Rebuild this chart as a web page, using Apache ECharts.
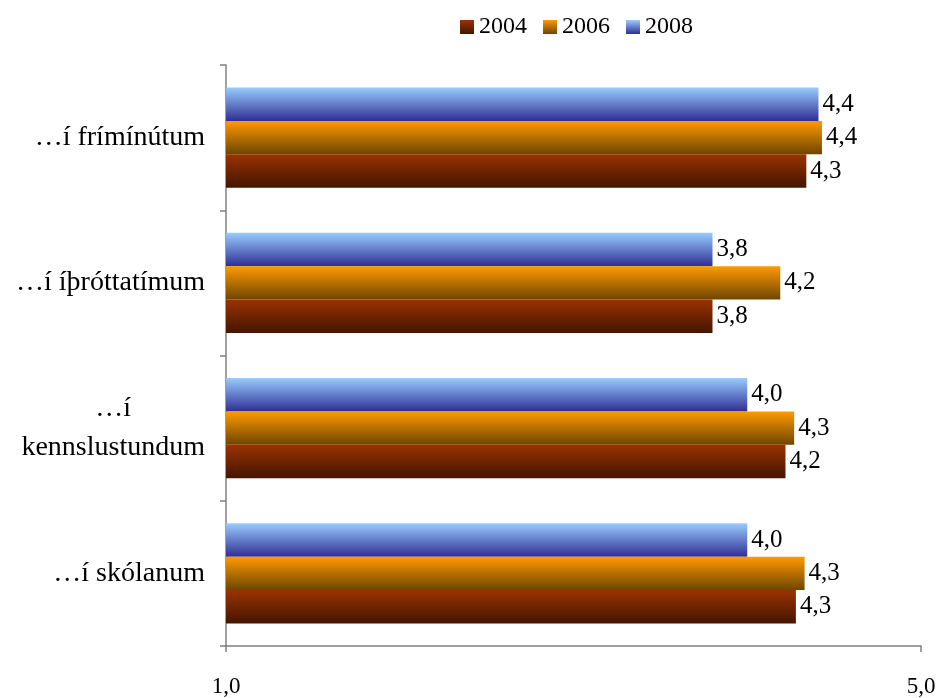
<!DOCTYPE html>
<html>
<head>
<meta charset="utf-8">
<script src="https://cdn.jsdelivr.net/npm/echarts@6/dist/echarts.min.js"></script>
<style>html,body{margin:0;padding:0;background:#fff}#c{width:941px;height:698px}</style>
</head>
<body>
<div id="c"></div>
<script>
var categories = ['…í frímínútum', '…í íþróttatímum', '…í\nkennslustundum', '…í skólanum'];
var years = ['2004', '2006', '2008'];
var values2004 = [4.34, 3.80, 4.22, 4.28];
var values2006 = [4.43, 4.19, 4.27, 4.33];
var values2008 = [4.41, 3.80, 4.00, 4.00];
var xTicks = [1, 5];

var FONT = 'Liberation Serif';
function grad(top, bottom) {
  return new echarts.graphic.LinearGradient(0, 0, 0, 1, [
    {offset: 0, color: top}, {offset: 1, color: bottom}
  ]);
}
var styles = {
  '2004': grad('#9a3300', '#441500'),
  '2006': grad('#ff9a00', '#6e4500'),
  '2008': grad('#99ccff', '#2e2f94')
};
var dataMap = {'2004': values2004, '2006': values2006, '2008': values2008};
function fmt(v) { return v.toFixed(1).replace('.', ','); }

var order = ['2008', '2006', '2004'];
var series = order.map(function (y) {
  return {
    name: y,
    type: 'bar',
    data: dataMap[y],
    barGap: '0%',
    barCategoryGap: '31%',
    itemStyle: {color: styles[y]},
    label: {
      show: true, position: 'right', distance: 4,
      fontFamily: FONT, fontSize: 25, color: '#000',
      formatter: function (p) { return fmt(p.value); }
    }
  };
});

var chart = echarts.init(document.getElementById('c'));
chart.setOption({
  animation: false,
  backgroundColor: '#fff',
  textStyle: {fontFamily: FONT},
  legend: {
    data: years.map(function (y) { return {name: y, itemStyle: {color: styles[y]}}; }),
    left: 455, top: 10,
    itemWidth: 14, itemHeight: 14, itemGap: 16,
    icon: 'rect',
    textStyle: {fontFamily: FONT, fontSize: 24, color: '#000', padding: [0, 0, 0, 0]}
  },
  grid: {left: 226, right: 20, top: 65, bottom: 51, containLabel: false},
  xAxis: {
    type: 'value', min: xTicks[0], max: xTicks[1], interval: xTicks[1] - xTicks[0],
    splitLine: {show: false},
    axisLine: {show: true, lineStyle: {color: '#808080', width: 1.5}},
    axisTick: {show: true, length: 6, lineStyle: {color: '#808080', width: 1.5}},
    axisLabel: {
      margin: 29, fontFamily: FONT, fontSize: 23, color: '#000',
      formatter: function (v) { return fmt(v); }
    }
  },
  yAxis: {
    type: 'category', data: categories, inverse: true,
    axisLine: {show: true, lineStyle: {color: '#808080', width: 1.5}},
    axisTick: {show: true, length: 6, lineStyle: {color: '#808080', width: 1.5}},
    axisLabel: {
      margin: 21, fontFamily: FONT, fontSize: 28, color: '#000', lineHeight: 39,
      formatter: function (v) {
        if (v.indexOf('\n') >= 0) {
          return v.split('\n').map(function (s) { return '{c|' + s + '}'; }).join('\n');
        }
        return '{n|' + v + '}';
      },
      rich: {
        c: {align: 'center', fontFamily: FONT, fontSize: 28, color: '#000', lineHeight: 39},
        n: {fontFamily: FONT, fontSize: 28, color: '#000'}
      }
    }
  },
  series: series
});
</script>
</body>
</html>
